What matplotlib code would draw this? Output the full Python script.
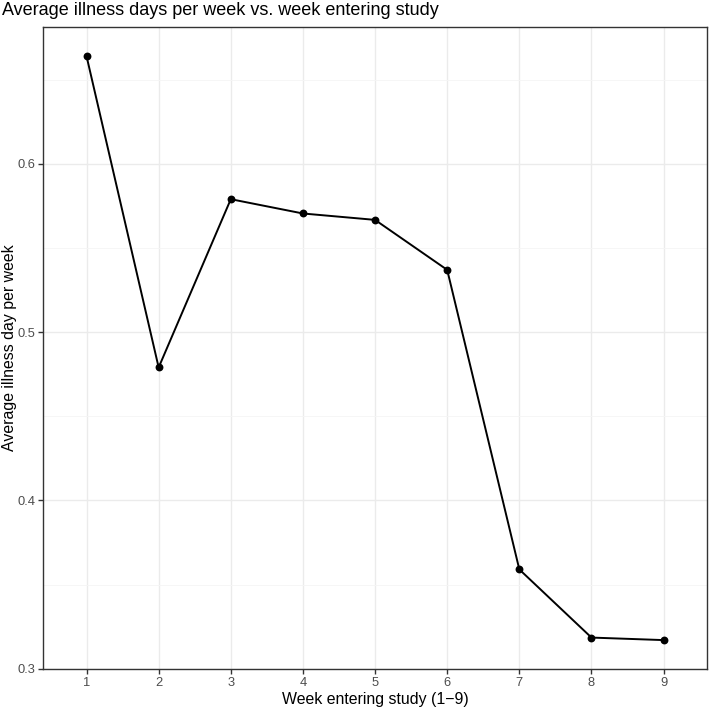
import matplotlib
matplotlib.use("Agg")
import matplotlib.pyplot as plt
from matplotlib.ticker import FixedLocator

plt.rcParams['font.family'] = ['Liberation Sans', 'DejaVu Sans']

# data
weeks = [1, 2, 3, 4, 5, 6, 7, 8, 9]
avg_illness = [0.664, 0.479, 0.579, 0.5705, 0.5667, 0.537, 0.359, 0.3185, 0.317]
week_labels = [str(w) for w in weeks]
y_major = [0.3, 0.4, 0.5, 0.6]
y_minor = [0.35, 0.45, 0.55, 0.65]

fig = plt.figure(figsize=(7.09, 7.09), dpi=100)
ax = fig.add_axes([0.061, 0.056, 0.936, 0.906])

# ggplot-like theme_bw
ax.set_facecolor('white')
for s in ax.spines.values():
    s.set_color('#333333')
    s.set_linewidth(1.0)

ax.plot(weeks, avg_illness, color='black', linewidth=1.4, zorder=3)
ax.scatter(weeks, avg_illness, s=32, color='black', zorder=4, linewidths=0)

# discrete x scale: 0.6 padding each side; continuous y: 5% padding
lo, hi = min(avg_illness), max(avg_illness)
pad = (hi - lo) * 0.05
ax.set_xlim(weeks[0] - 0.6, weeks[-1] + 0.6)
ax.set_ylim(lo - pad, hi + pad)

ax.set_xticks(weeks)
ax.set_xticklabels(week_labels)
ax.yaxis.set_major_locator(FixedLocator(y_major))
ax.yaxis.set_minor_locator(FixedLocator(y_minor))
ax.set_yticklabels([f"{v:.1f}" for v in y_major])

ax.grid(which='major', color='#EBEBEB', linewidth=1.0, zorder=0)
ax.grid(which='minor', axis='y', color='#F5F5F5', linewidth=0.6, zorder=0)
ax.set_axisbelow(True)

ax.tick_params(which='major', direction='out', length=3.5, width=1.0,
               color='#333333', labelcolor='#4D4D4D', labelsize=9.3, pad=2)
ax.tick_params(which='minor', length=0)

ax.set_xlabel('Week entering study (1\u22129)', fontsize=11.4, labelpad=2)
fig.text(10 / 709, 0.056 + 0.906 / 2, 'Average illness day per week',
         fontsize=11.4, rotation=90, ha='center', va='center')
fig.text(0.003, 0.985, 'Average illness days per week vs. week entering study',
         fontsize=13.0, ha='left', va='center')

fig.savefig('out.png', dpi=100)
